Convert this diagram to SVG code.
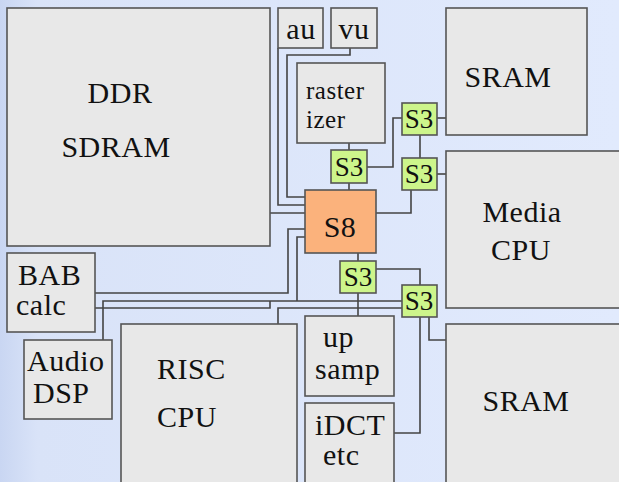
<svg xmlns="http://www.w3.org/2000/svg" width="619" height="482" viewBox="0 0 619 482">
<defs>
<linearGradient id="bg" x1="0" y1="0" x2="1" y2="0">
<stop offset="0" stop-color="#c9d6f2"/>
<stop offset="0.06" stop-color="#d9e3f8"/>
<stop offset="1" stop-color="#e1eafd"/>
</linearGradient>
</defs>
<style>
.box{fill:#e8e8e8;stroke:#555;stroke-width:1.6}
.s3{fill:#cdf58b;stroke:#555;stroke-width:1.6}
.s8{fill:#fbb27c;stroke:#555;stroke-width:1.6}
.w{fill:none;stroke:#444;stroke-width:1.6}
.t{font-size:30px;fill:#111;letter-spacing:0.5px}
.sm{font-size:27px;letter-spacing:0}
.rz{font-size:25px;letter-spacing:0.5px}
</style>
<rect width="619" height="482" fill="url(#bg)"/>
<g id="connectors">
<path class="w" d="M278,48 V205 H305"/>
<path class="w" d="M350,48 V55 H287 V197 H305"/>
<path class="w" d="M270,213 H305"/>
<path class="w" d="M305,229 H288 V293 H95"/>
<path class="w" d="M305,237 H297 V301"/>
<path class="w" d="M103,340 V301 H402"/>
<path class="w" d="M95,308 H270 V301"/>
<path class="w" d="M278,324 V308 H402"/>
<path class="w" d="M349,143 V150"/>
<path class="w" d="M349,183 V190"/>
<path class="w" d="M367,167 H393 V118 H402"/>
<path class="w" d="M437,118 H446"/>
<path class="w" d="M420,135 V158"/>
<path class="w" d="M437,174 H446"/>
<path class="w" d="M411,190 V213 H376"/>
<path class="w" d="M358,253 V261"/>
<path class="w" d="M358,293 V316"/>
<path class="w" d="M376,269 H420 V285"/>
<path class="w" d="M420,317 V433 H386"/>
<path class="w" d="M429,317 V340 H446"/>
</g>
<g font-family="Liberation Serif, serif">
<g id="ddr"><rect class="box" x="7" y="8" width="263" height="238"/><text class="t" x="120" y="103" text-anchor="middle">DDR</text><text class="t" x="116" y="157" text-anchor="middle">SDRAM</text></g>
<g id="au"><rect class="box" x="278" y="8" width="45" height="40"/><text class="t" x="301" y="39" text-anchor="middle">au</text></g>
<g id="vu"><rect class="box" x="331" y="8" width="46" height="40"/><text class="t" x="354" y="39" text-anchor="middle">vu</text></g>
<g id="rasterizer"><rect class="box" x="297" y="63" width="88" height="80"/><text class="t rz" x="306" y="99">raster</text><text class="t rz" x="306" y="128">izer</text></g>
<g id="s3a"><rect class="s3" x="331" y="150" width="36" height="33"/><text class="t sm" x="349" y="176" text-anchor="middle">S3</text></g>
<g id="s3b"><rect class="s3" x="402" y="103" width="35" height="32"/><text class="t sm" x="419" y="128" text-anchor="middle">S3</text></g>
<g id="s3c"><rect class="s3" x="402" y="158" width="35" height="32"/><text class="t sm" x="419" y="183" text-anchor="middle">S3</text></g>
<g id="s8"><rect class="s8" x="305" y="190" width="71" height="63"/><text class="t" x="340" y="237" text-anchor="middle">S8</text></g>
<g id="s3d"><rect class="s3" x="340" y="261" width="36" height="32"/><text class="t sm" x="358" y="286" text-anchor="middle">S3</text></g>
<g id="s3e"><rect class="s3" x="402" y="285" width="35" height="32"/><text class="t sm" x="419" y="310" text-anchor="middle">S3</text></g>
<g id="sram1"><rect class="box" x="446" y="8" width="141" height="127"/><text class="t" x="508" y="87" text-anchor="middle">SRAM</text></g>
<g id="media"><rect class="box" x="446" y="151" width="180" height="157"/><text class="t" x="522" y="222" text-anchor="middle">Media</text><text class="t" x="521" y="260" text-anchor="middle">CPU</text></g>
<g id="sram2"><rect class="box" x="446" y="324" width="180" height="170"/><text class="t" x="526" y="411" text-anchor="middle">SRAM</text></g>
<g id="bab"><rect class="box" x="7" y="253" width="88" height="79"/><text class="t" x="18" y="285">BAB</text><text class="t" x="16" y="315">calc</text></g>
<g id="audio"><rect class="box" x="24" y="340" width="88" height="79"/><text class="t" x="27" y="371">Audio</text><text class="t" x="33" y="403">DSP</text></g>
<g id="risc"><rect class="box" x="121" y="324" width="176" height="170"/><text class="t" x="157" y="379">RISC</text><text class="t" x="157" y="427">CPU</text></g>
<g id="upsamp"><rect class="box" x="305" y="316" width="89" height="80"/><text class="t" x="323" y="347">up</text><text class="t" x="315" y="379">samp</text></g>
<g id="idct"><rect class="box" x="305" y="403" width="89" height="90"/><text class="t" x="315" y="435">iDCT</text><text class="t" x="323" y="465">etc</text></g>
</g>
</svg>
